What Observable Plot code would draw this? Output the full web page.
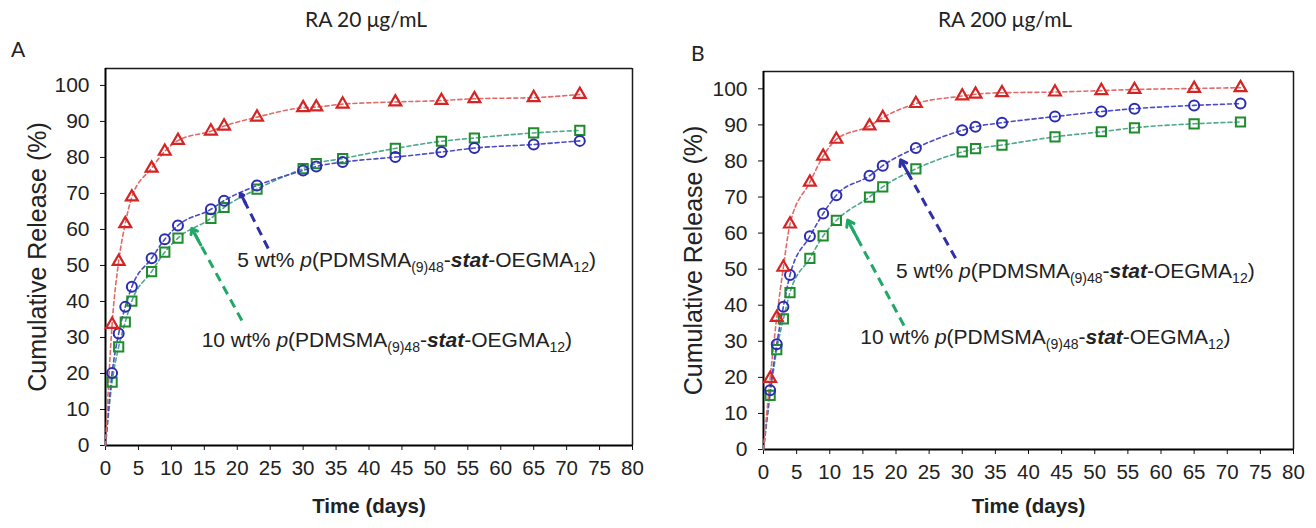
<!DOCTYPE html>
<html>
<head>
<meta charset="utf-8">
<script src="https://cdn.jsdelivr.net/npm/d3@7"></script>
<script src="https://cdn.jsdelivr.net/npm/@observablehq/plot@0.6"></script>
<style>
  html, body { margin: 0; padding: 0; background: #fff; }
  #wrap { position: relative; width: 1316px; height: 528px; background: #fff; overflow: hidden; }
  .ttl { position: absolute; z-index: 5; font-family: Lato, "Open Sans", sans-serif; font-size: 21px; color: #222; white-space: nowrap; }
  .pnl { position: absolute; z-index: 1; }
</style>
</head>
<body>
<div id="wrap">
  <div id="pa" class="pnl" style="left:0;top:40px"></div>
  <div id="pb" class="pnl" style="left:658px;top:40px"></div>
  <div class="ttl" id="titleA" style="left:0;width:732px;top:6px;text-align:center">RA 20 μg/mL</div>
  <div class="ttl" id="titleB" style="left:675px;width:660px;top:6px;text-align:center">RA 200 μg/mL</div>
  <div class="ttl" style="left:11px;top:36px">A</div>
  <div class="ttl" style="left:691px;top:40px">B</div>
</div>
<script>
// ---- data ----
const days = [1, 2, 3, 4, 7, 9, 11, 16, 18, 23, 30, 32, 36, 44, 51, 56, 65, 72];
const xTicks = [0, 5, 10, 15, 20, 25, 30, 35, 40, 45, 50, 55, 60, 65, 70, 75, 80];
const yTicks = [0, 10, 20, 30, 40, 50, 60, 70, 80, 90, 100];

// Panel A: RA 20 µg/mL
const redA   = [33.6, 51.1, 61.6, 69.0, 77.0, 81.7, 84.7, 87.3, 88.7, 91.2, 93.8, 94.0, 94.8, 95.4, 95.8, 96.3, 96.6, 97.5];
const blueA  = [20.1, 31.1, 38.5, 44.1, 52.0, 57.3, 61.1, 65.6, 68.0, 72.2, 76.4, 77.5, 78.7, 80.1, 81.5, 82.6, 83.6, 84.6];
const greenA = [17.6, 27.4, 34.3, 40.1, 48.3, 53.7, 57.6, 63.1, 66.1, 71.2, 76.9, 78.3, 79.7, 82.5, 84.5, 85.4, 86.8, 87.5];

// Panel B: RA 200 µg/mL
const redB   = [19.7, 36.6, 50.5, 62.5, 74.1, 81.3, 86.0, 89.7, 92.0, 95.9, 98.0, 98.5, 98.9, 99.1, 99.5, 99.8, 100.1, 100.3];
const blueB  = [16.4, 29.2, 39.6, 48.4, 59.1, 65.4, 70.5, 75.9, 78.7, 83.6, 88.5, 89.5, 90.6, 92.3, 93.7, 94.5, 95.4, 95.9];
const greenB = [15.0, 27.7, 36.2, 43.5, 53.0, 59.2, 63.5, 70.0, 72.8, 77.8, 82.5, 83.4, 84.4, 86.7, 88.1, 89.2, 90.3, 90.8];

// annotation labels
const label5  = "5 wt% p(PDMSMA(9)48-stat-OEGMA12)";
const label10 = "10 wt% p(PDMSMA(9)48-stat-OEGMA12)";
const labelParts5  = [["5 wt% "], ["p", "i"], ["(PDMSMA"], ["(9)48", "sub"], ["-"], ["stat", "bi"], ["-OEGMA"], ["12", "sub"], [")"]];
const labelParts10 = [["10 wt% "], ["p", "i"], ["(PDMSMA"], ["(9)48", "sub"], ["-"], ["stat", "bi"], ["-OEGMA"], ["12", "sub"], [")"]];

// annotation anchors (data units): [x, y]
const textA5 = [20, 51.4], textA10 = [14.6, 29.2];
const textB5 = [20, 49.3], textB10 = [14.6, 31.2];
// arrows (data units): [xTail, yTail, xHead, yHead]
const arrowA5 = [24.7, 54.7, 20.5, 70.0], arrowA10 = [20.7, 34.7, 13.1, 60.3];
const arrowB5 = [29.0, 53.0, 20.7, 80.3], arrowB10 = [21.2, 34.4, 12.7, 63.6];

// ---- styles ----
const C = {
  redM: "#d42424", redL: "#e06b6b",
  blueM: "#2c2cb0", blueL: "#4b4bc6",
  greenM: "#1f8c2e", greenL: "#4fa88c",
  arrowBlue: "#2f2fa8", arrowGreen: "#22a866",
  ink: "#222"
};

function rows(vals) { return days.map((d, i) => ({day: d, v: vals[i]})); }
function lineRows(vals) { return [{day: 0, v: 0}, ...rows(vals)]; }

function arrowMarks(a, color) {
  const [x1, y1, x2, y2] = a;
  const f = 0.82;
  return [
    Plot.link([a], {x1: () => x1, y1: () => y1, x2: () => x1 + (x2 - x1) * 0.97, y2: () => y1 + (y2 - y1) * 0.97,
      stroke: color, strokeWidth: 3, strokeDasharray: "9,6"}),
    Plot.arrow([a], {x1: () => x1 + (x2 - x1) * f, y1: () => y1 + (y2 - y1) * f, x2: () => x2, y2: () => y2,
      stroke: color, strokeWidth: 3, headLength: 9, headAngle: 70})
  ];
}

function panel(cfg) {
  const marks = [
    Plot.ruleY([cfg.ymax], {stroke: "#1a1a1a", strokeWidth: 1.5}),
    Plot.ruleX([80], {stroke: "#1a1a1a", strokeWidth: 1.5}),
    Plot.axisX({ticks: xTicks, tickSize: 5, tickPadding: 10, label: null, fontSize: 20.5, stroke: "#111", fill: C.ink}),
    Plot.axisY({ticks: yTicks, tickSize: 5, tickPadding: 11, label: null, fontSize: 21, stroke: "#111", fill: C.ink}),
    Plot.ruleY([0], {stroke: "#000", strokeWidth: 2}),
    Plot.ruleX([0], {stroke: "#000", strokeWidth: 2}),
    Plot.line(lineRows(cfg.green), {x: "day", y: "v", stroke: C.greenL, strokeWidth: 1.6, strokeDasharray: "4,3", curve: "monotone-x"}),
    Plot.line(lineRows(cfg.blue), {x: "day", y: "v", stroke: C.blueL, strokeWidth: 1.6, strokeDasharray: "4,3", curve: "monotone-x"}),
    Plot.line(lineRows(cfg.red), {x: "day", y: "v", stroke: C.redL, strokeWidth: 1.6, strokeDasharray: "4,3", curve: "monotone-x"}),
    Plot.dot(rows(cfg.green), {x: "day", y: "v", symbol: "square", r: 5.2, stroke: C.greenM, strokeWidth: 2, fill: "none"}),
    Plot.dot(rows(cfg.blue), {x: "day", y: "v", symbol: "circle", r: 5, stroke: C.blueM, strokeWidth: 2, fill: "none"}),
    Plot.dot(rows(cfg.red), {x: "day", y: "v", symbol: "triangle", r: 4.4, stroke: C.redM, strokeWidth: 2.2, fill: "none"}),
    ...arrowMarks(cfg.arrow5, C.arrowBlue),
    ...arrowMarks(cfg.arrow10, C.arrowGreen),
    Plot.text([label5], {x: () => cfg.text5[0], y: () => cfg.text5[1], text: d => d, textAnchor: "start", fontSize: 21, fill: C.ink}),
    Plot.text([label10], {x: () => cfg.text10[0], y: () => cfg.text10[1], text: d => d, textAnchor: "start", fontSize: 21, fill: C.ink}),
    Plot.text(["Cumulative Release (%)"], {frameAnchor: "left", text: d => d, rotate: -90, textAnchor: "middle", dx: cfg.ylabDx, fontSize: 25, fill: C.ink}),
    Plot.text(["Time (days)"], {frameAnchor: "bottom", text: d => d, dy: cfg.xlabDy, fontSize: 20.5, fontWeight: "bold", fill: C.ink})
  ];
  const svg = Plot.plot({
    width: 658, height: 488,
    marginLeft: cfg.ml, marginRight: cfg.mr, marginTop: cfg.mt, marginBottom: cfg.mb,
    x: {domain: [0, 80]},
    y: {domain: [0, cfg.ymax]},
    style: {fontFamily: "'Liberation Sans', Arial, sans-serif", fontSize: "20px", color: C.ink, background: "transparent", overflow: "visible"},
    marks
  });
  // rich formatting of annotation labels (italic, subscripts)
  const partsFor = {[label5]: labelParts5, [label10]: labelParts10};
  svg.querySelectorAll("text").forEach(t => {
    const parts = partsFor[t.textContent];
    if (!parts || t.children.length) return;
    t.textContent = "";
    let shifted = false;
    for (const [s, kind] of parts) {
      const ts = document.createElementNS("http://www.w3.org/2000/svg", "tspan");
      ts.textContent = s;
      if (kind === "i") ts.setAttribute("font-style", "italic");
      if (kind === "bi") { ts.setAttribute("font-style", "italic"); ts.setAttribute("font-weight", "bold"); }
      if (kind === "sub") { ts.setAttribute("font-size", "14"); ts.setAttribute("dy", "5"); shifted = true; }
      else if (shifted) { ts.setAttribute("dy", "-5"); shifted = false; }
      t.appendChild(ts);
    }
  });
  return svg;
}

document.getElementById("pa").appendChild(panel({
  red: redA, blue: blueA, green: greenA,
  ml: 105, mr: 26, mt: 28, mb: 83, ymax: 104.7,
  arrow5: arrowA5, arrow10: arrowA10, text5: textA5, text10: textA10,
  ylabDx: -68, xlabDy: 67
}));
document.getElementById("pb").appendChild(panel({
  red: redB, blue: blueB, green: greenB,
  ml: 105, mr: 23, mt: 31, mb: 79, ymax: 104.8,
  arrow5: arrowB5, arrow10: arrowB10, text5: textB5, text10: textB10,
  ylabDx: -70, xlabDy: 63
}));
</script>
</body>
</html>
